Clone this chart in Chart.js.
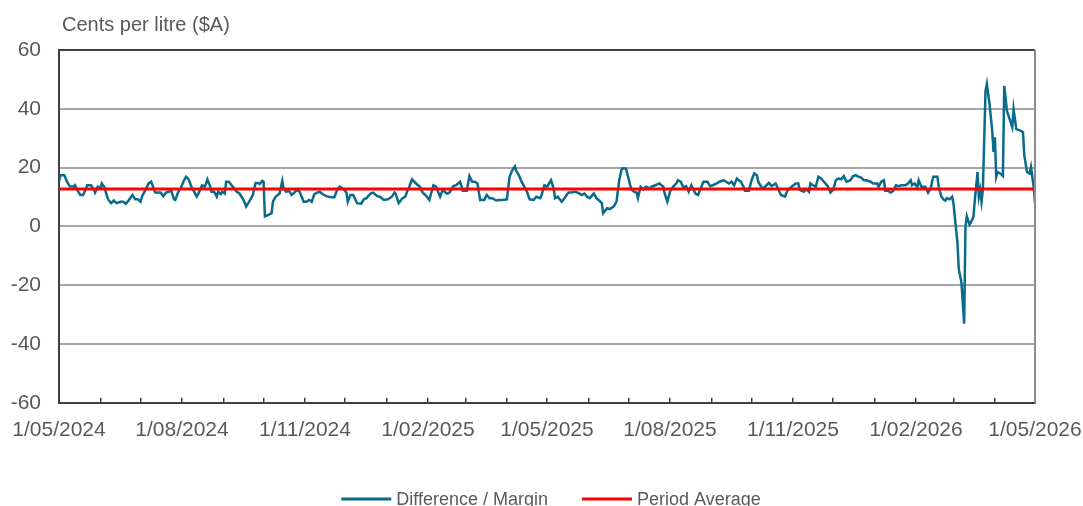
<!DOCTYPE html>
<html>
<head>
<meta charset="utf-8">
<script src="https://cdn.jsdelivr.net/npm/chart.js@4.4.1/dist/chart.umd.min.js"></script>
<style>
  html, body { margin: 0; padding: 0; background: #fff; overflow: hidden; }
  #wrap { width: 1083px; height: 506px; position: relative; }
</style>
</head>
<body>
<div id="wrap"><canvas id="chart"></canvas></div>
<script>
// days since 1/05/2024
const days = [
  0, 1, 4, 6, 8, 11, 12, 14, 16, 18, 20, 21, 24, 26, 27, 29, 31, 32, 34, 36, 37, 39, 41, 43, 46, 48, 50, 52, 55, 57,
  59, 61, 62, 64, 67, 69, 71, 72, 74, 76, 78, 80, 82, 84, 86, 87, 89, 91, 93, 95, 97, 99, 101, 103, 105, 107, 109, 110, 111, 113,
  114, 116, 118, 119, 121, 122, 124, 125, 127, 130, 133, 135, 138, 140, 143, 145, 147, 149, 150, 152, 153, 154, 157, 159, 160, 162, 165, 167, 168, 170,
  172, 174, 176, 178, 180, 183, 185, 187, 189, 191, 193, 195, 197, 200, 203, 206, 208, 210, 213, 215, 216, 218, 220, 223, 226, 228, 230, 233, 235, 238,
  240, 243, 246, 249, 251, 252, 254, 257, 259, 261, 262, 264, 267, 270, 272, 274, 277, 280, 282, 285, 287, 290, 292, 295, 297, 300, 302, 305, 307, 309,
  311, 313, 315, 318, 320, 322, 324, 327, 329, 332, 335, 337, 339, 341, 342, 344, 346, 348, 350, 352, 355, 357, 360, 361, 363, 365, 368, 370, 371, 373,
  376, 378, 381, 383, 386, 388, 391, 393, 395, 397, 400, 402, 404, 406, 407, 410, 412, 415, 417, 419, 421, 424, 426, 428, 430, 432, 433, 435, 437, 439,
  442, 443, 446, 449, 452, 453, 455, 457, 459, 462, 463, 465, 467, 469, 471, 473, 476, 478, 480, 482, 485, 487, 489, 492, 494, 497, 499, 501, 503, 505,
  507, 510, 512, 513, 516, 518, 520, 522, 523, 526, 528, 531, 533, 536, 538, 540, 543, 545, 548, 551, 553, 554, 557, 559, 561, 562, 564, 566, 568, 570,
  572, 575, 577, 579, 581, 583, 585, 587, 589, 592, 594, 596, 597, 600, 602, 604, 607, 609, 612, 613, 615, 617, 618, 620, 622, 624, 626, 628, 630, 633,
  635, 637, 638, 640, 642, 643, 645, 648, 650, 652, 653, 654, 657, 658, 660, 662, 663, 664, 666, 668, 669, 670, 672, 673, 675, 677, 678, 679, 681, 683,
  684, 685, 686, 687, 688, 689, 690, 691, 693, 694, 696, 698, 699, 700, 701, 702, 704, 706, 707, 709, 711, 713, 714, 716, 719, 721, 722, 724, 726, 727,
  728, 729, 730
];

// Difference / Margin, cents per litre
const margin = [
  15.2, 17.4, 17.4, 15.2, 13.7, 13.5, 14.0, 12.1, 10.7, 10.7, 12.6, 14.0, 14.0, 12.6, 11.5, 13.5, 12.9, 14.6, 13.3, 10.1, 9.0, 7.9, 8.8, 7.9, 8.4, 8.4, 7.7, 8.8, 10.7, 9.2,
  9.2, 8.4, 10.1, 11.8, 14.6, 15.2, 12.6, 11.5, 11.5, 11.5, 10.3, 11.5, 11.8, 12.1, 9.2, 9.0, 11.5, 12.9, 15.2, 16.9, 16.0, 13.5, 11.8, 10.1, 11.8, 14.0, 13.5, 14.6, 16.0, 13.7,
  11.8, 11.8, 10.1, 11.8, 11.0, 11.8, 11.2, 15.2, 15.2, 13.5, 11.8, 11.2, 9.0, 6.8, 9.0, 10.7, 14.8, 14.8, 14.4, 15.5, 15.2, 3.4, 4.0, 4.5, 8.4, 10.1, 11.2, 15.5, 12.9, 11.8,
  12.1, 10.7, 11.5, 12.4, 11.8, 8.4, 8.4, 9.0, 8.4, 11.0, 11.5, 11.8, 11.0, 10.3, 9.9, 9.9, 12.4, 13.5, 12.6, 11.5, 8.4, 10.7, 10.7, 7.9, 7.7, 9.2, 9.6, 11.2, 11.5, 10.3,
  10.1, 9.0, 9.2, 10.1, 11.5, 11.0, 7.9, 9.6, 10.1, 12.6, 13.5, 16.0, 14.6, 13.5, 11.5, 10.7, 9.0, 14.0, 13.5, 10.1, 12.4, 11.2, 11.5, 13.7, 14.0, 15.2, 12.1, 12.1, 17.1, 15.2,
  15.2, 14.6, 9.0, 9.0, 10.7, 9.6, 9.6, 8.8, 9.0, 9.0, 9.2, 16.9, 19.1, 20.4, 18.9, 17.4, 15.2, 13.5, 11.8, 9.2, 9.0, 10.1, 9.6, 10.7, 14.0, 13.5, 15.7, 12.9, 9.6, 10.1,
  8.4, 9.6, 11.5, 11.5, 11.8, 11.5, 10.7, 11.2, 10.1, 9.6, 11.2, 9.6, 8.8, 7.9, 4.5, 6.2, 5.9, 6.8, 8.4, 15.7, 19.7, 19.7, 16.3, 12.6, 11.8, 11.5, 9.6, 13.5, 12.6, 13.5,
  12.9, 13.5, 14.0, 14.6, 13.5, 11.2, 8.4, 11.8, 13.3, 14.8, 15.7, 15.2, 13.3, 13.7, 11.8, 14.0, 11.2, 10.7, 12.9, 15.2, 15.2, 13.7, 14.0, 14.6, 15.2, 15.7, 15.2, 14.6, 15.2, 14.0,
  16.3, 15.2, 13.5, 12.1, 12.1, 15.7, 18.0, 17.4, 15.2, 12.9, 13.5, 14.8, 13.7, 14.6, 12.6, 10.7, 10.1, 12.4, 13.5, 14.6, 14.6, 12.4, 11.8, 12.6, 11.8, 14.6, 14.0, 13.5, 16.9, 16.3,
  15.2, 13.7, 11.5, 12.4, 15.7, 16.3, 16.0, 17.1, 15.2, 15.7, 17.1, 17.4, 17.1, 16.6, 15.7, 15.7, 15.2, 14.6, 14.6, 13.5, 15.2, 15.7, 12.1, 12.1, 11.5, 12.1, 14.0, 13.7, 14.0, 14.0,
  14.6, 15.7, 14.0, 14.6, 13.3, 15.7, 13.5, 13.5, 11.5, 12.9, 15.2, 16.9, 16.9, 13.5, 10.1, 9.0, 8.8, 9.6, 9.2, 10.1, 7.9, 3.4, -5.6, -14.6, -19.1, -33.1, 0.0, 3.4, 0.6, 2.2,
  3.4, 9.0, 13.5, 18.5, 10.1, 12.4, 8.4, 12.4, 46.1, 48.5, 41.6, 32.6, 25.3, 30.3, 16.9, 18.5, 18.0, 17.1, 47.8, 39.3, 36.5, 33.7, 39.9, 33.1, 32.6, 32.0, 24.2, 18.5, 18.0, 20.2,
  16.9, 13.5, 7.9
];

const periodAverage = 12.7;
const yTicks = [-60, -40, -20, 0, 20, 40, 60];

const FONT = '"Liberation Sans", Arial, sans-serif';
const TEXT = '#595959';

// month starts from 1/05/2024 to 1/05/2026
const start = Date.UTC(2024, 4, 1);
const monthTicks = [];
for (let i = 0; i <= 24; i++) {
  const d = new Date(Date.UTC(2024, 4 + i, 1));
  monthTicks.push({ value: (d - start) / 86400000, date: d });
}
const fmt = d => d.getUTCDate() + '/' + String(d.getUTCMonth() + 1).padStart(2, '0') + '/' + d.getUTCFullYear();

const marginData = days.map((d, i) => ({ x: d, y: margin[i] }));
const avgData = [{ x: 0, y: periodAverage }, { x: 730, y: periodAverage }];

const extras = {
  id: 'extras',
  afterDraw(chart) {
    const ctx = chart.ctx;
    const a = chart.chartArea;
    ctx.save();
    // right frame line
    ctx.strokeStyle = '#8C8C8C';
    ctx.lineWidth = 2;
    ctx.beginPath();
    ctx.moveTo(a.right, a.top);
    ctx.lineTo(a.right, a.bottom);
    ctx.stroke();
    // unit title
    ctx.fillStyle = TEXT;
    ctx.font = '20px ' + FONT;
    ctx.textBaseline = 'alphabetic';
    ctx.textAlign = 'left';
    ctx.fillText('Cents per litre ($A)', 62, 31);
    // legend
    ctx.font = '18px ' + FONT;
    const ds = chart.data.datasets;
    const lineW = 50, gapText = 5, gapItem = 34;
    const widths = ds.map(d => lineW + gapText + ctx.measureText(d.label).width);
    const total = widths.reduce((s, w) => s + w, 0) + gapItem * (ds.length - 1);
    let x = (a.left + a.right) / 2 + 4 - total / 2;
    const y = 499;
    ds.forEach((d, i) => {
      ctx.strokeStyle = d.borderColor;
      ctx.lineWidth = 3;
      ctx.beginPath();
      ctx.moveTo(x, y);
      ctx.lineTo(x + lineW, y);
      ctx.stroke();
      ctx.fillStyle = TEXT;
      ctx.textBaseline = 'alphabetic';
      ctx.fillText(d.label, x + lineW + gapText, 505);
      x += widths[i] + gapItem;
    });
    ctx.restore();
  }
};

new Chart(document.getElementById('chart'), {
  type: 'line',
  data: {
    datasets: [
      {
        label: 'Difference / Margin',
        data: marginData,
        borderColor: '#0A6A8C',
        borderWidth: 2.5,
        pointRadius: 0,
        tension: 0,
        order: 1
      },
      {
        label: 'Period Average',
        data: avgData,
        borderColor: '#FF0000',
        borderWidth: 3,
        pointRadius: 0,
        order: 0
      }
    ]
  },
  options: {
    responsive: true,
    maintainAspectRatio: false,
    animation: false,
    events: [],
    layout: { padding: { top: 50, left: 10, right: 48, bottom: 43 } },
    plugins: {
      legend: { display: false },
      tooltip: { enabled: false },
      title: { display: false }
    },
    scales: {
      x: {
        type: 'linear',
        min: 0,
        max: 730,
        afterBuildTicks: scale => { scale.ticks = monthTicks.map(t => ({ value: t.value })); },
        afterFit: scale => { scale.paddingLeft = 0; scale.paddingRight = 0; },
        ticks: {
          autoSkip: false,
          maxRotation: 0,
          padding: 20,
          color: TEXT,
          font: { family: FONT, size: 21 },
          callback: (v, i) => (i % 3 === 0 ? fmt(monthTicks[i].date) : '')
        },
        grid: { drawOnChartArea: false, drawTicks: true, tickLength: -5, color: '#404040', lineWidth: 1.5 },
        border: { display: true, color: '#404040', width: 2 }
      },
      y: {
        min: -60,
        max: 60,
        afterBuildTicks: scale => { scale.ticks = yTicks.map(v => ({ value: v })); },
        afterFit: scale => { scale.width = 49; },
        ticks: {
          padding: 18,
          color: TEXT,
          font: { family: FONT, size: 21 }
        },
        grid: {
          drawTicks: false,
          lineWidth: 2,
          color: c => (c.tick && Math.abs(c.tick.value) === 60 ? '#404040' : '#A6A6A6')
        },
        border: { display: true, color: '#404040', width: 2 }
      }
    }
  },
  plugins: [extras]
});
</script>
</body>
</html>
